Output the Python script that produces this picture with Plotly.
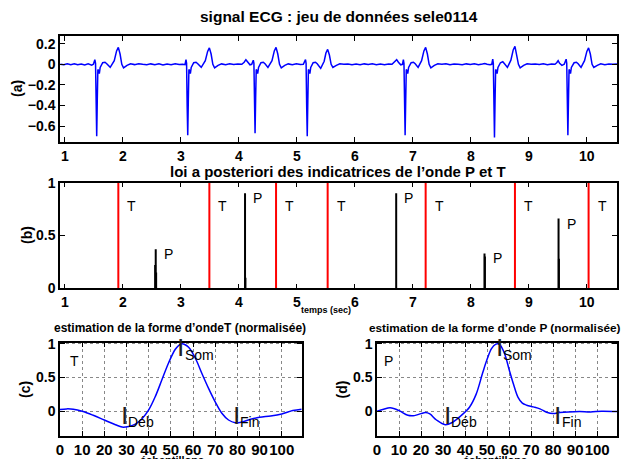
import plotly.graph_objects as go

# ---------------- panel (a): ECG signal (time in s, amplitude) ----------------
ecg_t = [
    0.92, 0.98, 1.04, 1.10, 1.16, 1.22, 1.28, 1.34, 1.40, 1.46, 1.49,
    1.515, 1.527, 1.537, 1.547, 1.557, 1.567, 1.577, 1.592, 1.607, 1.65, 1.69, 1.72, 1.78, 1.85, 1.89, 1.92, 1.95, 1.98, 2.01, 2.07,
    2.13, 2.20, 2.27, 2.34, 2.41, 2.48, 2.55, 2.62, 2.69, 2.76, 2.83, 2.90, 2.97, 3.03, 3.07,
    3.087, 3.097, 3.107, 3.117, 3.127, 3.137, 3.147, 3.162, 3.177, 3.22, 3.26, 3.29, 3.35, 3.42, 3.46, 3.49, 3.52, 3.55, 3.58, 3.64,
    3.70, 3.77, 3.84, 3.91, 3.98, 4.05, 4.09, 4.12, 4.15, 4.19, 4.22, 4.248,
    4.258, 4.268, 4.278, 4.288, 4.298, 4.308, 4.323, 4.338, 4.38, 4.42, 4.45, 4.50, 4.57, 4.61, 4.64, 4.67, 4.70, 4.73, 4.79,
    4.85, 4.92, 4.99, 5.06, 5.11, 5.148,
    5.158, 5.168, 5.178, 5.188, 5.198, 5.208, 5.223, 5.238, 5.28, 5.32, 5.35, 5.41, 5.47, 5.50, 5.53, 5.56, 5.59, 5.62, 5.68,
    5.74, 5.81, 5.88, 5.95, 6.02, 6.09, 6.16, 6.23, 6.30, 6.37, 6.44, 6.51, 6.58, 6.64, 6.69, 6.72, 6.75, 6.79, 6.82, 6.836,
    6.846, 6.856, 6.866, 6.876, 6.886, 6.896, 6.911, 6.926, 6.97, 7.01, 7.04, 7.09, 7.15, 7.19, 7.22, 7.25, 7.28, 7.31, 7.37,
    7.43, 7.50, 7.57, 7.64, 7.71, 7.78, 7.85, 7.92, 7.99, 8.06, 8.13, 8.20, 8.24, 8.28, 8.33, 8.36, 8.377,
    8.387, 8.397, 8.407, 8.417, 8.427, 8.437, 8.452, 8.467, 8.51, 8.55, 8.58, 8.63, 8.69, 8.73, 8.76, 8.79, 8.82, 8.85, 8.91,
    8.97, 9.04, 9.11, 9.18, 9.25, 9.32, 9.39, 9.45, 9.48, 9.505, 9.53, 9.57, 9.61, 9.643,
    9.653, 9.663, 9.673, 9.683, 9.693, 9.703, 9.718, 9.733, 9.78, 9.82, 9.85, 9.90, 9.96, 10.00, 10.03, 10.06, 10.09, 10.12, 10.18,
    10.24, 10.31, 10.38, 10.45, 10.52,
]
ecg_v = [
    0.0, -0.005, 0.004, -0.003, 0.006, -0.004, 0.003, -0.006, 0.004, -0.008, 0.0,
    0.045, 0.01, -0.40, -0.70, -0.35, -0.05, -0.06, -0.09, -0.03, 0.015, 0.02, 0.005, -0.03, 0.035, 0.13, 0.165, 0.10, 0.0, -0.035, -0.01,
    0.005, -0.003, 0.006, 0.0, -0.005, 0.004, -0.004, 0.006, -0.006, 0.003, -0.004, 0.005, -0.003, 0.0, -0.004,
    0.045, 0.01, -0.40, -0.69, -0.35, -0.05, -0.06, -0.09, -0.03, 0.015, 0.02, 0.005, -0.03, 0.035, 0.125, 0.16, 0.10, 0.0, -0.035, -0.01,
    0.004, -0.004, 0.005, -0.003, 0.004, 0.0, 0.02, 0.045, 0.02, -0.005, 0.0, 0.04,
    0.01, -0.40, -0.67, -0.33, -0.05, -0.06, -0.09, -0.03, 0.015, 0.02, 0.005, -0.03, 0.035, 0.13, 0.165, 0.10, 0.0, -0.035, -0.01,
    0.004, -0.004, 0.005, -0.003, 0.0, 0.045,
    0.01, -0.40, -0.70, -0.35, -0.05, -0.06, -0.09, -0.03, 0.015, 0.02, 0.005, -0.04, 0.03, 0.11, 0.145, 0.09, 0.0, -0.03, -0.01,
    0.005, 0.0, 0.004, -0.004, 0.003, -0.005, 0.004, -0.003, 0.005, -0.004, 0.003, -0.004, 0.004, 0.0, 0.025, 0.045, 0.02, -0.005, 0.0, 0.045,
    0.01, -0.40, -0.69, -0.35, -0.05, -0.06, -0.09, -0.03, 0.015, 0.02, 0.005, -0.03, 0.035, 0.13, 0.165, 0.10, 0.0, -0.035, -0.01,
    0.005, 0.0, 0.006, -0.004, 0.003, 0.0, -0.005, 0.004, -0.003, 0.005, -0.004, 0.003, 0.008, 0.0, -0.005, 0.0, 0.05,
    0.01, -0.40, -0.71, -0.35, -0.05, -0.06, -0.09, -0.03, 0.015, 0.025, 0.005, -0.03, 0.04, 0.14, 0.175, 0.10, 0.0, -0.035, -0.01,
    0.005, 0.0, 0.004, -0.003, 0.005, -0.004, 0.003, 0.0, 0.015, 0.035, 0.01, -0.01, 0.0, 0.05,
    0.01, -0.40, -0.69, -0.35, -0.05, -0.06, -0.09, -0.03, 0.015, 0.02, 0.005, -0.03, 0.035, 0.125, 0.16, 0.10, 0.0, -0.03, -0.01,
    0.005, -0.004, 0.004, 0.0, 0.003,
]

# ---------------- panel (b): posterior indicators ----------------
t_wave_times = [1.92, 3.49, 4.64, 5.53, 7.22, 8.76, 10.03]
p_stem_t = [2.555, 2.565, 2.572, 4.105, 4.112, 6.712, 8.235, 8.242, 9.512, 9.518]
p_stem_h = [0.22, 0.37, 0.15, 0.90, 0.10, 0.90, 0.33, 0.30, 0.66, 0.28]
p_label_t = [2.565, 4.105, 6.712, 8.24, 9.515]
p_label_h = [0.37, 0.90, 0.90, 0.33, 0.66]

# ---------------- panel (c): T waveform ----------------
tw_x = [0, 3, 6, 10, 15, 20, 25, 28, 31, 34, 37, 40, 43, 46, 49, 52, 54, 55, 56, 58, 61, 64, 67, 70, 73, 76, 79, 82, 86, 90, 95, 100, 105, 109]
tw_y = [0.025, 0.035, 0.03, 0.0, -0.06, -0.13, -0.2, -0.235, -0.225, -0.19, -0.11, 0.02, 0.22, 0.47, 0.72, 0.92, 0.99, 1.0, 0.995, 0.95,
        0.79, 0.56, 0.34, 0.14, -0.03, -0.13, -0.17, -0.16, -0.12, -0.09, -0.07, -0.04, 0.01, 0.03]
t_marks_x = [29, 54.5, 79.5]
t_marks_y = [0, 1, 0]

# ---------------- panel (d): P waveform ----------------
pw_x = [0, 3, 6, 10, 14, 17, 20, 22, 24, 27, 31, 34, 38, 42, 45, 48, 50, 52, 54, 55, 56, 58, 60, 62, 64, 66, 68, 71, 74, 77, 80, 83, 87, 92, 97, 102, 109]
pw_y = [0.0, 0.03, 0.05, 0.01, -0.06, -0.065, -0.035, -0.02, -0.04, -0.13, -0.2, -0.17, -0.07, 0.06, 0.25, 0.57, 0.77, 0.93, 0.995, 1.0,
        0.98, 0.85, 0.62, 0.4, 0.21, 0.12, 0.09, 0.065, 0.035, -0.015, -0.035, -0.02, -0.01, -0.005, -0.01, 0.0, -0.005]
p_marks_x = [32, 55.5, 82]
p_marks_y = [0, 1, 0]
mark_names = ["Déb", "Som", "Fin"]

W, H = 624, 459
FONT = "Liberation Sans, Arial, sans-serif"
BLUE = "#0000ff"


def px_x(px):
    return px / W


def px_y(py):
    return 1 - py / H


fig = go.Figure()

fig.add_trace(go.Scatter(x=ecg_t, y=ecg_v, mode="lines", line=dict(color=BLUE, width=1.5),
                         xaxis="x", yaxis="y", showlegend=False, hoverinfo="skip"))

# red T lines
rx, ry = [], []
for t in t_wave_times:
    rx += [t, t, None]
    ry += [0, 1, None]
fig.add_trace(go.Scatter(x=rx, y=ry, mode="lines", line=dict(color="#ff0000", width=2),
                         xaxis="x2", yaxis="y2", showlegend=False, hoverinfo="skip"))
# black P stems
sx, sy = [], []
for t, h in zip(p_stem_t, p_stem_h):
    sx += [t, t, None]
    sy += [0, h, None]
fig.add_trace(go.Scatter(x=sx, y=sy, mode="lines", line=dict(color="#000000", width=2),
                         xaxis="x2", yaxis="y2", showlegend=False, hoverinfo="skip"))

fig.add_trace(go.Scatter(x=tw_x, y=tw_y, mode="lines", line=dict(color=BLUE, width=1.5, shape="spline"),
                         xaxis="x3", yaxis="y3", showlegend=False, hoverinfo="skip"))
fig.add_trace(go.Scatter(x=pw_x, y=pw_y, mode="lines", line=dict(color=BLUE, width=1.5, shape="spline"),
                         xaxis="x4", yaxis="y4", showlegend=False, hoverinfo="skip"))

axis_common = dict(showline=True, linecolor="black", linewidth=1.5, mirror="ticks",
                   ticks="inside", ticklen=5, tickwidth=1, tickcolor="black",
                   zeroline=False, showgrid=False, tickangle=0, automargin=False,
                   tickfont=dict(family=FONT, size=14, color="black", weight="bold"))

dom_x_full = [px_x(60), px_x(617)]
fig.update_layout(
    width=W, height=H, autosize=False,
    margin=dict(l=0, r=0, t=0, b=0, autoexpand=False),
    paper_bgcolor="white", plot_bgcolor="white",
    xaxis=dict(axis_common, domain=dom_x_full, range=[0.914, 10.52], tickvals=list(range(1, 11)), anchor="y"),
    yaxis=dict(axis_common, domain=[px_y(142), px_y(36)], range=[-0.755, 0.275],
               tickvals=[-0.6, -0.4, -0.2, 0, 0.2], anchor="x"),
    xaxis2=dict(axis_common, domain=dom_x_full, range=[0.914, 10.52], tickvals=list(range(1, 11)), anchor="y2"),
    yaxis2=dict(axis_common, domain=[px_y(288.3), px_y(182.7)], range=[0, 1], tickvals=[0, 0.5, 1], anchor="x2"),
)

grid_common = dict(showgrid=True, gridcolor="#888888", gridwidth=1, griddash="dot")
bx_font = dict(family=FONT, size=15, color="black", weight="bold")
fig.update_layout(
    xaxis3=dict(axis_common, **grid_common, domain=[px_x(60), px_x(301.7)], range=[0, 109],
                tickvals=list(range(0, 101, 10)), anchor="y3"),
    yaxis3=dict(axis_common, **grid_common, domain=[px_y(435.5), px_y(342.5)], range=[-0.36, 1.02],
                tickvals=[0, 0.5, 1], anchor="x3"),
    xaxis4=dict(axis_common, **grid_common, domain=[px_x(377), px_x(617)], range=[0, 109],
                tickvals=list(range(0, 101, 10)), anchor="y4"),
    yaxis4=dict(axis_common, **grid_common, domain=[px_y(435.5), px_y(342.5)], range=[-0.36, 1.02],
                tickvals=[0, 0.5, 1], anchor="x4"),
)
fig.layout.xaxis3.tickfont = bx_font
fig.layout.xaxis4.tickfont = bx_font

ann = []


def paper_text(text, cx, cy, size, bold=True, angle=0):
    ann.append(dict(text=text, x=px_x(cx), y=px_y(cy), xref="paper", yref="paper",
                    xanchor="center", yanchor="middle", showarrow=False, textangle=angle,
                    font=dict(family=FONT, size=size, color="black", weight="bold" if bold else "normal")))


paper_text("signal ECG : jeu de données sele0114", 338.5, 17, 15.5)
paper_text("loi a posteriori des indicatrices de l’onde P et T", 337.5, 172, 15)
paper_text("estimation de la forme d’ondeT (normalisée)", 180, 328, 12)
paper_text("estimation de la forme d’onde P (normalisée)", 495, 328, 11.8)
paper_text("temps (sec)", 326, 310, 9)
paper_text("échantillons", 172, 460, 11)
paper_text("échantillons", 495, 460, 11)
paper_text("(a)", 17, 89, 14, angle=-90)
paper_text("(b)", 27, 235, 14, angle=-90)
paper_text("(c)", 25, 390, 14, angle=-90)
paper_text("(d)", 341.5, 390, 14, angle=-90)

lab_font = dict(family=FONT, size=14, color="black")
for t in t_wave_times:
    ann.append(dict(text="T", x=t, y=0.78, xref="x2", yref="y2", xanchor="left", yanchor="middle",
                    xshift=7, showarrow=False, font=lab_font))
for t, h in zip(p_label_t, p_label_h):
    ann.append(dict(text="P", x=t, y=h, xref="x2", yref="y2", xanchor="left", yanchor="middle",
                    xshift=6, yshift=-5, showarrow=False, font=lab_font))

ann.append(dict(text="T", x=6.5, y=0.74, xref="x3", yref="y3", xanchor="center", yanchor="middle",
                showarrow=False, font=lab_font))
ann.append(dict(text="P", x=5, y=0.75, xref="x4", yref="y4", xanchor="center", yanchor="middle",
                showarrow=False, font=lab_font))

for (mx, my, xr, yr) in [(t_marks_x, t_marks_y, "x3", "y3"), (p_marks_x, p_marks_y, "x4", "y4")]:
    for x, y, name in zip(mx, my, mark_names):
        ann.append(dict(text="|", x=x, y=y, xref=xr, yref=yr, xanchor="center", yanchor="middle",
                        yshift=-2, showarrow=False,
                        font=dict(family=FONT, size=19, color="#202020", weight="bold")))
        ann.append(dict(text=name, x=x, y=y, xref=xr, yref=yr, xanchor="left", yanchor="middle",
                        xshift=2, yshift=-11, showarrow=False, font=lab_font))

fig.update_layout(annotations=ann)
fig.write_html("out.html")
